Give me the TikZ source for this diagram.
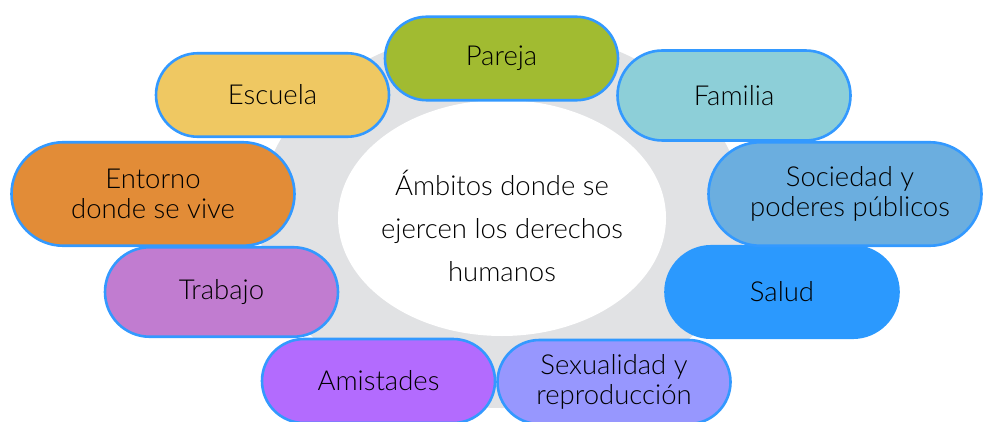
\documentclass[tikz,border=0pt]{standalone}
\usepackage{fontspec}
\setmainfont{Lato Light}
\usetikzlibrary{shapes.misc,shapes.geometric}
\definecolor{ringgray}{HTML}{E1E2E4}
\definecolor{pillborder}{HTML}{3399FF}
\definecolor{cPareja}{HTML}{A1BB31}
\definecolor{cEscuela}{HTML}{EFC862}
\definecolor{cFamilia}{HTML}{8DCFD8}
\definecolor{cEntorno}{HTML}{E28C37}
\definecolor{cSociedad}{HTML}{6BAEDF}
\definecolor{cSalud}{HTML}{2B99FE}
\definecolor{cTrabajo}{HTML}{C17CD0}
\definecolor{cAmistades}{HTML}{B36BFE}
\definecolor{cSexualidad}{HTML}{9797FE}
\begin{document}
\begin{tikzpicture}[x=1pt,y=-1pt,
  pill/.style={rounded rectangle, draw=pillborder, line width=2.6pt,
    inner sep=0pt, align=center, text=black,
    font=\fontsize{27.5}{30}\selectfont},
  pillA/.style={pill, minimum width=233pt, minimum height=83.5pt}]
\useasboundingbox (0,0) rectangle (984,422);
\fill[ringgray] (502,218) ellipse [x radius=243, y radius=190];
\node[ellipse, fill=white, minimum width=328pt, minimum height=236pt, inner sep=0pt] (hub) at (502,218) {};
\node[font=\fontsize{27.5}{43}\selectfont, align=center, text=black] (hubtext) at (502,226)
  {Ámbitos donde se\\ejercen los derechos\\humanos};
\node[pillA, fill=cAmistades, minimum height=84pt] (amistades) at (378.5,381) {Amistades};
\node[pillA, fill=cSexualidad, minimum height=84pt] (sexualidad) at (614,382) {Sexualidad y\\reproducción};
\node[pillA, fill=cTrabajo, minimum height=89.5pt] (trabajo) at (221.5,292) {Trabajo};
\node[pillA, fill=cSalud, draw=cSalud, minimum height=91.5pt] (salud) at (782,292) {Salud};
\node[pill, fill=cEntorno, minimum width=283pt, minimum height=103.5pt] (entorno) at (153,194) {Entorno\\donde se vive};
\node[pill, fill=cSociedad, minimum width=273pt, minimum height=103.5pt] (sociedad) at (845,194) {\hspace*{10pt}Sociedad y\\\hspace*{10pt}poderes públicos};
\node[pillA, fill=cPareja] (pareja) at (501.5,58.5) {Pareja};
\node[pillA, fill=cEscuela] (escuela) at (272.5,95) {Escuela};
\node[pillA, fill=cFamilia, minimum height=90pt] (familia) at (734,95.5) {Familia};
\end{tikzpicture}
\end{document}
